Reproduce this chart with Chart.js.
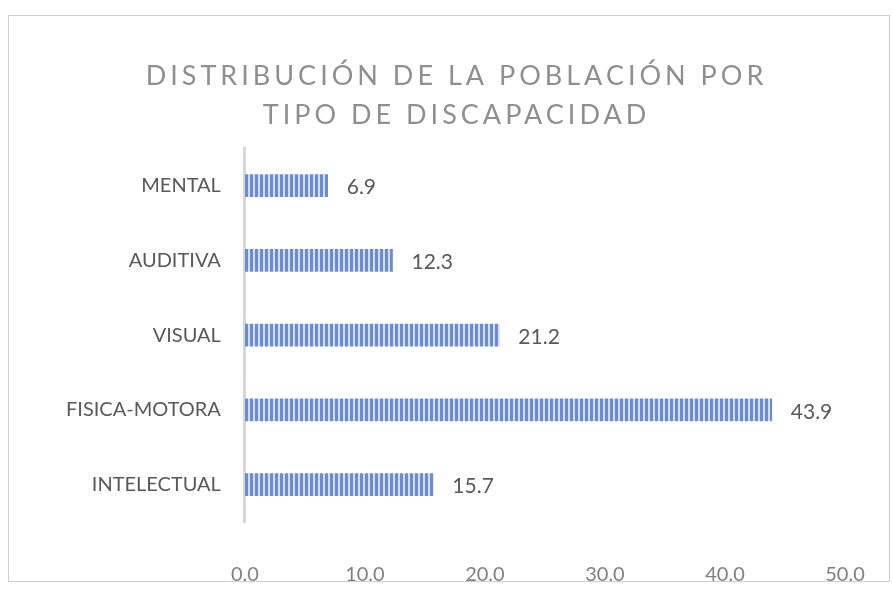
<!DOCTYPE html>
<html>
<head>
<meta charset="utf-8">
<script src="https://cdn.jsdelivr.net/npm/chart.js@4/dist/chart.umd.min.js"></script>
<style>
  html, body { margin: 0; padding: 0; background: #fff; }
  #wrap { position: relative; width: 893px; height: 597px; }
  #frame { position: absolute; left: 8px; top: 15px; width: 880px; height: 565px;
           border: 1px solid #c9cdd6; pointer-events: none; }
</style>
</head>
<body>
<div id="wrap">
  <canvas id="chart" width="893" height="597"></canvas>
  <div id="frame"></div>
</div>
<script>
// datos
const categorias = ['MENTAL', 'AUDITIVA', 'VISUAL', 'FISICA-MOTORA', 'INTELECTUAL'];
const porcentajes = [6.9, 12.3, 21.2, 43.9, 15.7];
const tituloLineas = ['DISTRIBUCIÓN DE LA POBLACIÓN POR', 'TIPO DE DISCAPACIDAD'];
const ejeMin = 0, ejeMax = 50, ejePaso = 10;

const FUENTE = 'Lato, "Open Sans", sans-serif';

// relleno rayado vertical, como en el escaneo
function crearRayas(ctx) {
    const c = document.createElement('canvas');
    c.width = 5; c.height = 4;
    const g = c.getContext('2d');
    g.fillStyle = '#d3ddf3';
    g.fillRect(0, 0, 5, 4);
    g.fillStyle = '#6c8ccf';
    g.fillRect(0, 0, 3, 4);
    return ctx.createPattern(c, 'repeat');
}

// espaciado de letras solo para el título
const tituloEspaciado = {
    id: 'tituloEspaciado',
    afterInit(chart) {
        const tb = chart.titleBlock;
        if (!tb) return;
        const orig = tb.draw.bind(tb);
        tb.draw = function (area) {
            chart.ctx.save();
            chart.ctx.letterSpacing = '4px';
            chart.ctx.translate(13, 0);
            orig(area);
            chart.ctx.restore();
        };
    }
};

// etiquetas de valor al final de cada barra
const etiquetasValor = {
    id: 'etiquetasValor',
    afterDatasetsDraw(chart) {
        const ctx = chart.ctx;
        const meta = chart.getDatasetMeta(0);
        ctx.save();
        ctx.font = '21px ' + FUENTE;
        ctx.fillStyle = '#595959';
        ctx.textAlign = 'left';
        ctx.textBaseline = 'middle';
        meta.data.forEach((bar, i) => {
            ctx.fillText(porcentajes[i].toFixed(1), bar.x + 19, bar.y + 2);
        });
        ctx.restore();
    }
};

const ctx = document.getElementById('chart').getContext('2d');
new Chart(ctx, {
    type: 'bar',
    data: {
        labels: categorias,
        datasets: [{
            data: porcentajes,
            backgroundColor: crearRayas(ctx),
            borderWidth: 0,
            barThickness: 22
        }]
    },
    options: {
        indexAxis: 'y',
        responsive: false,
        animation: false,
        layout: { padding: { top: 57, right: 48, bottom: 10, left: 42 } },
        plugins: {
            legend: { display: false },
            tooltip: { enabled: false },
            title: {
                display: true,
                text: tituloLineas,
                color: '#8f8f8f',
                font: { family: FUENTE, size: 27, weight: 'normal', lineHeight: 1.45 },
                padding: { top: 0, bottom: 13 }
            }
        },
        scales: {
            x: {
                min: ejeMin,
                max: ejeMax,
                // hueco bajo el área: marca de 41px invisible (la rejilla no se dibuja)
                grid: { display: false, drawTicks: true, tickLength: 41 },
                border: { display: false },
                afterFit: s => { s.height = 65; },
                ticks: {
                    stepSize: ejePaso,
                    padding: 0,
                    color: '#808080',
                    font: { family: FUENTE, size: 20 },
                    callback: v => v.toFixed(1)
                }
            },
            y: {
                grid: { display: false, drawTicks: false },
                border: { display: true, color: '#d6d6d6', width: 3 },
                ticks: {
                    padding: 24,
                    color: '#595959',
                    font: { family: FUENTE, size: 20 }
                }
            }
        }
    },
    plugins: [tituloEspaciado, etiquetasValor]
});
</script>
</body>
</html>
